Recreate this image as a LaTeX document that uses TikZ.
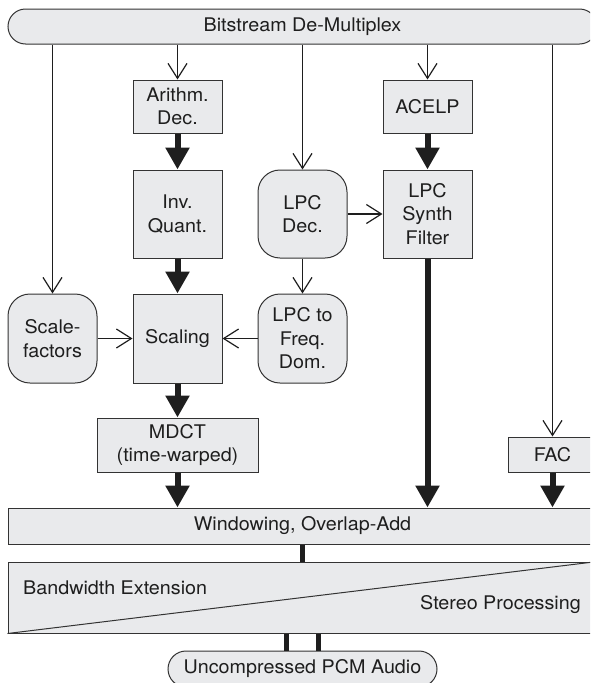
\documentclass[tikz,border=0pt]{standalone}
\usepackage{fontspec}
\setmainfont{TeX Gyre Heros}[FakeStretch=1.05]
\usetikzlibrary{arrows.meta}
\definecolor{boxfill}{HTML}{E9EAEC}
\definecolor{boxline}{HTML}{333333}
\definecolor{ink}{HTML}{1E1E1E}
\begin{document}
\begin{tikzpicture}[x=1pt,y=-1pt,
  every node/.style={font=\fontsize{18.8}{23.5}\selectfont, text=ink},
  blk/.style={draw=boxline, fill=boxfill, line width=1pt, inner sep=0pt, align=center,
              minimum width=89pt, minimum height=88pt},
  rblk/.style={blk, rounded corners=22pt},
  thinarrow/.style={draw=ink, line width=1.2pt, -{Straight Barb[length=15pt,width=19pt]}},
  fatarrow/.style={draw=ink, line width=6pt, -{Triangle[length=22pt,width=23pt]}},
  barline/.style={draw=ink, line width=5pt},
  label/.style={inner sep=0pt}
]
\useasboundingbox (0,0) rectangle (590,683);
\clip (0,0) rectangle (590,683);

% blocks
\node[blk, rounded corners=17.5pt, minimum width=589pt, minimum height=35pt] (demux) at (302.5,26.5) {Bitstream De-Multiplex};
\node[blk, minimum height=53pt] (arith) at (177.5,106.5) {Arithm.\\Dec.};
\node[blk, minimum height=53pt] (acelp) at (427.5,106.5) {ACELP};
\node[blk] (invq) at (177.5,214) {Inv.\\Quant.};
\node[rblk] (lpcdec) at (302.5,214) {LPC\\Dec.};
\node[blk] (synth) at (427.5,214) {LPC\\Synth\\Filter};
\node[rblk, minimum height=89pt] (scf) at (52.5,338.5) {Scale-\\factors};
\node[blk, minimum height=89pt] (scaling) at (177.5,338.5) {Scaling};
\node[rblk, minimum height=89pt] (lpc2f) at (302.5,338.5) {LPC to\\Freq.\\Dom.};
\node[blk, minimum width=161pt, minimum height=54pt] (mdct) at (177.5,445) {MDCT\\(time-warped)};
\node[blk, minimum height=35pt] (fac) at (552.5,454.5) {FAC};
\node[blk, minimum width=589pt, minimum height=36pt] (win) at (302.5,526) {Windowing, Overlap-Add};
\node[blk, minimum width=589pt, minimum height=71pt] (bwe) at (302.5,597.5) {};
\draw[draw=boxline, line width=1pt] (bwe.south west) -- (bwe.north east);
\node[label, anchor=west] (bwetext) at (23,588) {Bandwidth Extension};
\node[label, anchor=east] (stereo) at (581,605) {Stereo Processing};
\node[blk, rounded corners=18pt, minimum width=269pt, minimum height=36pt] (pcm) at (302.5,669) {Uncompressed PCM Audio};

% thin arrows from the demultiplexer
\draw[thinarrow] (demux.south -| scf.north) -- (scf.north);
\draw[thinarrow] (demux.south -| arith.north) -- (arith.north);
\draw[thinarrow] (demux.south -| lpcdec.north) -- (lpcdec.north);
\draw[thinarrow] (demux.south -| acelp.north) -- (acelp.north);
\draw[thinarrow] (demux.south -| fac.north) -- (fac.north);

% other thin arrows
\draw[thinarrow] (lpcdec.east) -- (synth.west);
\draw[thinarrow] (lpcdec.south) -- (lpc2f.north);
\draw[thinarrow] (scf.east) -- (scaling.west);
\draw[thinarrow] (lpc2f.west) -- (scaling.east);

% thick arrows
\draw[fatarrow] (arith.south) -- (invq.north);
\draw[fatarrow] (invq.south) -- (scaling.north);
\draw[fatarrow] (scaling.south) -- (mdct.north);
\draw[fatarrow] (mdct.south) -- (mdct.south |- win.north);
\draw[fatarrow] (acelp.south) -- (synth.north);
\draw[fatarrow] (synth.south) -- (synth.south |- win.north);
\draw[fatarrow] (fac.south) -- (fac.south |- win.north);

% plain thick lines
\draw[barline] (win.south) -- (bwe.north);
\draw[barline] ([xshift=-16pt]bwe.south) -- ([xshift=-16pt]pcm.north);
\draw[barline] ([xshift=16pt]bwe.south) -- ([xshift=16pt]pcm.north);
\end{tikzpicture}
\end{document}
